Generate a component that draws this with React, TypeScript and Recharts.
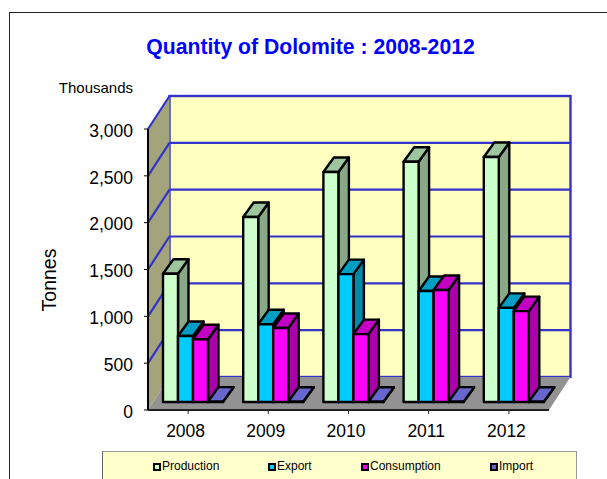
import { BarChart, Bar, XAxis, YAxis, Legend, ReferenceArea, ReferenceLine } from 'recharts';

const years = ['2008', '2009', '2010', '2011', '2012'];
const production = [1370, 1975, 2455, 2565, 2615];
const exportQty = [705, 830, 1365, 1185, 1005];
const consumption = [670, 790, 725, 1195, 970];
const importQty = [4, 3, 3, 4, 3];
const yTicks = [0, 500, 1000, 1500, 2000, 2500, 3000];

const chartData = years.map((year, i) => ({
  year,
  production: production[i],
  export: exportQty[i],
  consumption: consumption[i],
  import: importQty[i],
}));

// depth of the fake 3d box, and of each bar inside it
const WALL_DX = 21.5;
const WALL_DY = 33;
const BAR_DX = 5;
const BAR_DY = 8;
const DEPTH_X = 10.5;
const DEPTH_Y = 14.5;

const GRID = '#3333CC';

function bar3d(side: string, top: string) {
  return (props: any) => {
    const x = props.x + BAR_DX;
    const y = props.y - BAR_DY;
    const w = props.width;
    const h = props.height;
    return (
      <g stroke="#000" strokeWidth={2.4} strokeLinejoin="round">
        <polygon
          fill={side}
          points={`${x + w},${y} ${x + w + DEPTH_X},${y - DEPTH_Y} ${x + w + DEPTH_X},${y + h - DEPTH_Y} ${x + w},${y + h}`}
        />
        <polygon
          fill={top}
          points={`${x},${y} ${x + DEPTH_X},${y - DEPTH_Y} ${x + w + DEPTH_X},${y - DEPTH_Y} ${x + w},${y}`}
        />
        <rect x={x} y={y} width={w} height={h} fill={props.fill} />
      </g>
    );
  };
}

function Walls(props: any) {
  const { x, y, width, height } = props;
  const bottom = y + height;
  return (
    <g>
      <rect x={x + WALL_DX} y={y - WALL_DY} width={width} height={height} fill="#FFFFC0" stroke={GRID} strokeWidth={2.4} />
      <polygon
        fill="#A3A37C"
        points={`${x},${y} ${x + WALL_DX},${y - WALL_DY} ${x + WALL_DX},${bottom - WALL_DY} ${x},${bottom}`}
      />
      <polygon
        fill="#929292"
        points={`${x},${bottom} ${x + WALL_DX},${bottom - WALL_DY} ${x + width + WALL_DX},${bottom - WALL_DY} ${x + width},${bottom}`}
      />
    </g>
  );
}

function GridLine(props: any) {
  const { x1, y1, x2, y2 } = props;
  if (y1 === undefined) return null;
  return (
    <g stroke={GRID} strokeWidth={2.2} fill="none">
      <line x1={x1} y1={y1} x2={x1 + WALL_DX} y2={y1 - WALL_DY} />
      <line x1={x1 + WALL_DX} y1={y1 - WALL_DY} x2={x2 + WALL_DX} y2={y2 - WALL_DY} />
    </g>
  );
}

const legendLeft = [152, 267, 360, 489];

function ChartLegend({ payload }: any) {
  return (
    <div
      style={{
        position: 'relative',
        width: 475,
        height: 29,
        background: '#FFFFCC',
        borderTop: '1px solid #999',
        borderLeft: '1px solid #666',
        borderRight: '1px solid #999',
        boxSizing: 'border-box',
        fontFamily: 'Liberation Sans',
        fontSize: 12,
        color: '#000',
      }}
    >
      {(payload || []).map((entry: any, i: number) => (
        <div key={entry.value} style={{ position: 'absolute', left: legendLeft[i] - 102, top: 7, lineHeight: '14px' }}>
          <span
            style={{
              display: 'inline-block',
              width: 4,
              height: 4,
              marginRight: 1,
              background: entry.color,
              border: '2px solid #000',
              verticalAlign: -1,
              boxSizing: 'content-box',
            }}
          />
          {entry.value}
        </div>
      ))}
    </div>
  );
}

export default function App() {
  return (
    <div style={{ position: 'absolute', left: 0, top: 0, width: 607, height: 479, overflow: 'hidden', background: '#fff' }}>
      <div
        style={{
          position: 'absolute',
          left: 9,
          top: 12,
          width: 598,
          height: 467,
          borderTop: '1px solid #222',
          borderLeft: '1px solid #222',
        }}
      />
      <BarChart
        width={607}
        height={479}
        data={chartData}
        margin={{ top: 129, right: 58, bottom: 39, left: 90 }}
        barSize={15}
        barGap={0}
        style={{ position: 'absolute', left: 0, top: 0 }}
      >
        <ReferenceArea x1="2008" x2="2012" y1={0} y2={3000} shape={Walls} ifOverflow="visible" zIndex={110} />
        {yTicks.slice(1).map((t) => (
          <ReferenceLine key={t} y={t} shape={GridLine} ifOverflow="visible" zIndex={120} />
        ))}
        <XAxis
          dataKey="year"
          height={30}
          interval={0}
          axisLine={{ stroke: '#222', strokeWidth: 2 }}
          tickLine={{ stroke: '#222' }}
          tickSize={4}
          tick={{ fill: '#000', fontSize: 17.5, fontFamily: 'Liberation Sans', dy: 9, dx: -2.5 }}
        />
        <YAxis
          width={58}
          domain={[0, 3000]}
          ticks={yTicks}
          interval={0}
          tickFormatter={(v: number) => v.toLocaleString('en-US')}
          axisLine={{ stroke: '#000', strokeWidth: 2 }}
          tickLine={{ stroke: '#000' }}
          tickSize={4}
          tickMargin={11}
          tick={{ fill: '#000', fontSize: 17.5, fontFamily: 'Liberation Sans', dy: 1.5 }}
        />
        <Legend
          verticalAlign="middle"
          itemSorter={null}
          content={<ChartLegend />}
          wrapperStyle={{ left: 102, top: 451, width: 475, height: 29, bottom: 'auto' }}
        />
        <Bar dataKey="production" name="Production" fill="#CCFFCC" isAnimationActive={false} shape={bar3d('#88A888', '#9EC69E')} />
        <Bar dataKey="export" name="Export" fill="#00CCFF" isAnimationActive={false} shape={bar3d('#0088AA', '#009DC4')} />
        <Bar dataKey="consumption" name="Consumption" fill="#FF00FF" isAnimationActive={false} shape={bar3d('#AA00AA', '#C400C4')} />
        <Bar dataKey="import" name="Import" fill="#6666CC" isAnimationActive={false} shape={bar3d('#44448A', '#6666CC')} />
        <text x={310.5} y={54} textAnchor="middle" fontFamily="Liberation Sans" fontWeight="bold" fontSize={21.2} fill="#0000FF">
          Quantity of Dolomite : 2008-2012
        </text>
        <text x={133} y={93} textAnchor="end" fontFamily="Liberation Sans" fontSize={15} fill="#000">
          Thousands
        </text>
        <text
          x={55.5}
          y={280}
          textAnchor="middle"
          fontFamily="Liberation Sans"
          fontSize={19.5}
          fill="#000"
          transform="rotate(-90 55.5 280)"
        >
          Tonnes
        </text>
      </BarChart>
    </div>
  );
}
